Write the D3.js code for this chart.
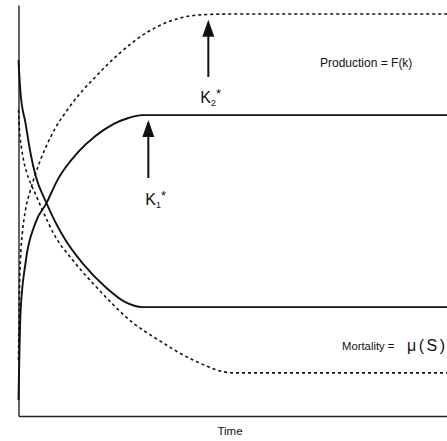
<!DOCTYPE html>
<html>
<head>
<meta charset="utf-8">
<script src="https://cdn.jsdelivr.net/npm/d3@7"></script>
<style>
  html, body { margin: 0; padding: 0; background: #fff; }
  svg { display: block; }
  text { font-family: "Liberation Sans", Arial, sans-serif; fill: #111; }
</style>
</head>
<body>
<svg id="chart" width="447" height="441"></svg>
<script>
// ---- data (conceptual units: time 0-100, level 0-100) ----
const prodSolidTime  = [0, 0.23, 0.47, 1.63, 3.96, 6.53, 9.09, 13.75, 17.95, 22.14, 25.64, 28.90, 100];
const prodSolidValue = [3.9, 16.1, 25.1, 37.2, 47.0, 51.8, 57.4, 64.0, 68.1, 71.0, 72.5, 73.2, 73.2];

const prodDashTime  = [0, 0.23, 0.47, 0.93, 1.63, 2.80, 3.96, 5.13, 6.29, 8.62, 11.42, 14.45, 17.48, 23.08, 30.07, 35.43, 42.42, 49.42, 100];
const prodDashValue = [13.6, 30.7, 38.4, 44.8, 50.1, 55.0, 58.9, 62.3, 65.2, 70.1, 74.5, 78.6, 82.0, 87.8, 93.4, 96.1, 97.6, 97.8, 97.8];

const mortSolidTime  = [0, 0.47, 1.63, 2.80, 3.96, 6.53, 10.96, 14.92, 20.28, 24.94, 28.90, 100];
const mortSolidValue = [86.6, 78.6, 71.3, 64.0, 58.6, 51.8, 42.8, 37.2, 31.4, 27.7, 26.5, 26.5];

const mortDashTime  = [0, 0.23, 0.70, 1.17, 1.86, 2.80, 3.96, 5.59, 8.62, 12.59, 17.25, 21.91, 25.41, 33.10, 40.79, 50.12, 100];
const mortDashValue = [74.5, 69.6, 65.2, 62.3, 59.4, 56.7, 54.0, 50.1, 43.6, 38.0, 32.4, 27.3, 23.8, 18.2, 13.6, 10.5, 10.5];

// equilibrium markers (time, arrow tip level, arrow tail level)
const k2Marker = { time: 44.3, tip: 96.4, tail: 82.5 };
const k1Marker = { time: 30.3, tip: 72.0, tail: 57.9 };

const xLabel = "Time";
const productionLabel = "Production = F(k)";
const mortalityLabel = "Mortality =";
const mortalitySymbol = "μ(S)";

// ---- drawing ----
const svg = d3.select("#chart");
const x = d3.scaleLinear().domain([0, 100]).range([18.5, 447]);
const y = d3.scaleLinear().domain([0, 100]).range([416, 5]);

const zip = (ts, vs) => ts.map((t, i) => [t, vs[i]]);
const line = d3.line().x(d => x(d[0])).y(d => y(d[1])).curve(d3.curveMonotoneX);

// axes (no ticks)
svg.append("g").attr("transform", `translate(0,${y(0)})`)
  .call(d3.axisBottom(x).tickValues([]).tickSizeOuter(0))
  .select(".domain").attr("stroke", "#222").attr("stroke-width", 1.4);
svg.append("g").attr("transform", `translate(${x(0)},0)`)
  .call(d3.axisLeft(y).tickValues([]).tickSizeOuter(0))
  .select(".domain").attr("stroke", "#222").attr("stroke-width", 1.4);

const series = [
  { data: zip(prodSolidTime, prodSolidValue), dash: null },
  { data: zip(mortSolidTime, mortSolidValue), dash: null },
  { data: zip(prodDashTime, prodDashValue), dash: "3,3" },
  { data: zip(mortDashTime, mortDashValue), dash: "3,3" }
];
series.forEach(s => {
  svg.append("path")
    .attr("d", line(s.data))
    .attr("fill", "none")
    .attr("stroke", "#111")
    .attr("stroke-width", s.dash ? 1.6 : 1.9)
    .attr("stroke-dasharray", s.dash);
});

// arrows
function arrow(m) {
  const ax = x(m.time), yt = y(m.tip), yb = y(m.tail);
  svg.append("line").attr("x1", ax).attr("x2", ax).attr("y1", yb).attr("y2", yt + 10)
    .attr("stroke", "#111").attr("stroke-width", 2);
  svg.append("path")
    .attr("d", `M${ax},${yt} L${ax - 6},${yt + 17} L${ax + 6},${yt + 17} Z`)
    .attr("fill", "#111");
}
arrow(k2Marker);
arrow(k1Marker);

// K labels
function kLabel(px, py, sub) {
  const t = svg.append("text").attr("x", px).attr("y", py).attr("font-size", 16);
  t.append("tspan").text("K");
  t.append("tspan").attr("font-size", 9).attr("dy", 3).text(sub);
  t.append("tspan").attr("font-size", 13).attr("dy", -8).text("*");
}
kLabel(x(k2Marker.time) - 8, 103, "2");
kLabel(x(k1Marker.time) - 3, 205, "1");

svg.append("text").attr("x", 320).attr("y", 67).attr("font-size", 12).text(productionLabel);
svg.append("text").attr("x", 342).attr("y", 350).attr("font-size", 11.3).text(mortalityLabel);
svg.append("text").attr("x", 407).attr("y", 351).attr("font-size", 16)
  .attr("letter-spacing", 2.5).text(mortalitySymbol);
svg.append("text").attr("x", 230).attr("y", 435).attr("font-size", 11.5)
  .attr("text-anchor", "middle").text(xLabel);
</script>
</body>
</html>
